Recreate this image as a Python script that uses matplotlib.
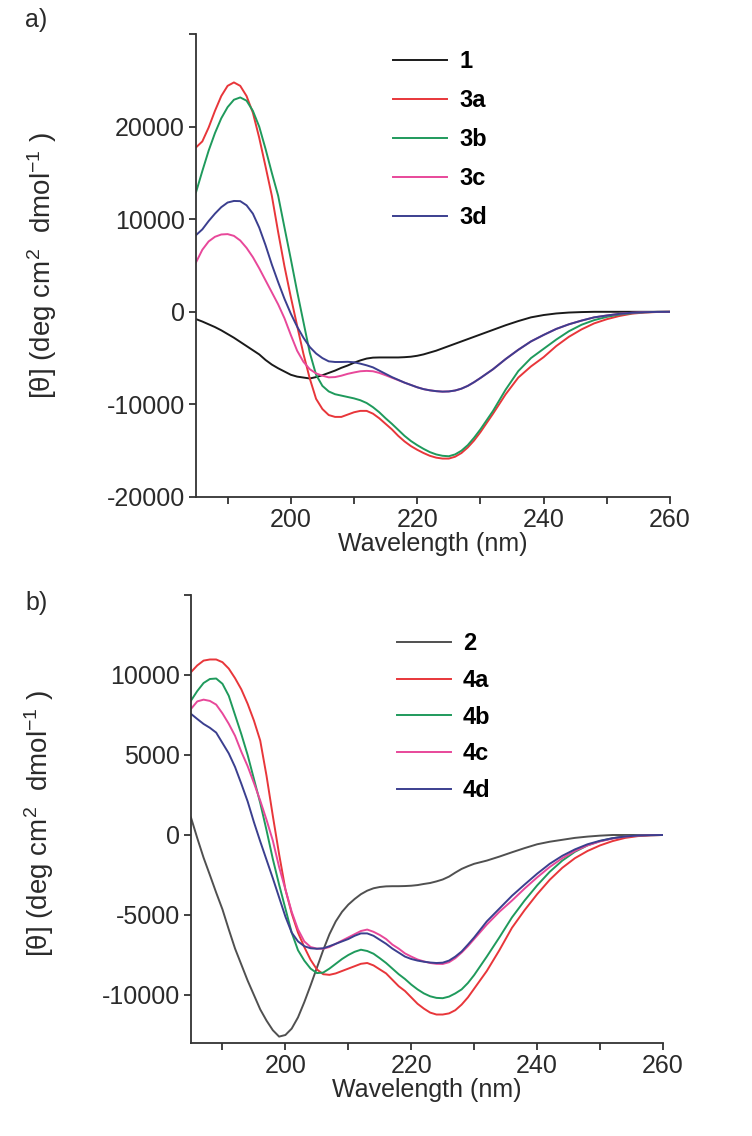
import matplotlib
matplotlib.use("Agg")
import matplotlib.pyplot as plt

plt.rcParams['font.family'] = ['Liberation Sans', 'DejaVu Sans']
plt.rcParams['mathtext.default'] = 'regular'
plt.rcParams['axes.unicode_minus'] = False

# wavelength grid (nm), shared by both panels
wl = list(range(185, 231)) + list(range(232, 261, 2))

# ---- panel a ----
s1 = [-790, -1050, -1350, -1650, -2000, -2400, -2800, -3250, -3700, -4150,
      -4600, -5200, -5700, -6100, -6450, -6800, -7000, -7100, -7200, -7050,
      -6850, -6600, -6350, -6050, -5800, -5500, -5250, -5050, -4950, -4930,
      -4930, -4930, -4930, -4900, -4850, -4750, -4600, -4400, -4200, -3950,
      -3700, -3450, -3200, -2950, -2700, -2450,
      -1950, -1450, -1000, -600, -350, -180, -80, -30, 0, 0, 0, 0, 0, 0, 0]
s3a = [17750, 18400, 19900, 21700, 23300, 24400, 24770, 24400, 23300, 21500,
       18800, 15700, 12530, 8600, 4900, 1600, -1500, -4550, -7200, -9400,
       -10500, -11150, -11350, -11350, -11100, -10850, -10700, -10700, -11000, -11500,
       -12100, -12700, -13400, -14000, -14500, -14900, -15250, -15550, -15750, -15850,
       -15850, -15650, -15250, -14650, -13900, -13000,
       -11000, -8900, -7100, -5900, -4900, -3700, -2700, -1900, -1250, -800,
       -450, -200, -80, -20, 0]
s3b = [12900, 15200, 17400, 19300, 20900, 22100, 22900, 23150, 22800, 21700,
       20000, 17600, 15000, 12530, 9100, 5700, 2200, -1100, -4400, -6800,
       -8000, -8600, -8900, -9050, -9200, -9350, -9550, -9850, -10300, -10850,
       -11500, -12100, -12750, -13400, -13950, -14400, -14800, -15150, -15400, -15550,
       -15600, -15400, -15000, -14400, -13600, -12700,
       -10700, -8400, -6400, -5000, -4000, -3000, -2100, -1400, -900, -550,
       -300, -150, -50, -10, 0]
s3c = [5330, 6700, 7600, 8100, 8350, 8390, 8200, 7700, 6900, 5900,
       4700, 3400, 2100, 800, -700, -2500, -4200, -5400, -6200, -6650,
       -6900, -7080, -7050, -6900, -6700, -6550, -6420, -6380, -6420, -6600,
       -6850, -7120, -7380, -7650, -7900, -8150, -8350, -8480, -8570, -8620,
       -8600, -8500, -8300, -8000, -7600, -7150,
       -6200, -5100, -4100, -3200, -2500, -1850, -1350, -950, -600, -400,
       -220, -100, -40, -10, 0]
s3d = [8280, 8900, 9800, 10600, 11300, 11800, 11970, 11950, 11500, 10600,
       9100, 7200, 5100, 3200, 1400, -200, -1600, -2800, -3800, -4500,
       -5000, -5350, -5420, -5420, -5400, -5450, -5600, -5780, -6000, -6350,
       -6700, -7050, -7350, -7650, -7900, -8150, -8350, -8480, -8570, -8620,
       -8600, -8500, -8300, -8000, -7600, -7150,
       -6200, -5100, -4100, -3200, -2500, -1850, -1350, -950, -600, -400,
       -220, -100, -40, -10, 0]

# ---- panel b ----
s2 = [1090, -200, -1420, -2500, -3600, -4650, -5900, -7100, -8100, -9100,
      -10000, -10900, -11600, -12200, -12600, -12500, -12100, -11400, -10450, -9400,
      -8300, -7200, -6200, -5400, -4800, -4350, -4000, -3700, -3480, -3330,
      -3250, -3210, -3200, -3200, -3190, -3170, -3130, -3060, -3000, -2900,
      -2780, -2600, -2350, -2120, -1950, -1800,
      -1600, -1350, -1080, -820, -580, -420, -300, -180, -100, -40,
      0, 0, 0, 0, 0]
s4a = [10180, 10600, 10900, 10970, 10970, 10800, 10400, 9800, 9100, 8200,
       7150, 5900, 3700, 1200, -1200, -3400, -4900, -6100, -7000, -7800,
       -8400, -8700, -8740, -8650, -8500, -8350, -8200, -8050, -8000, -8150,
       -8400, -8650, -9050, -9450, -9750, -10150, -10550, -10850, -11100, -11220,
       -11220, -11150, -10950, -10600, -10150, -9600,
       -8500, -7200, -5800, -4700, -3700, -2800, -2050, -1450, -1000, -650,
       -380, -180, -70, -20, 0]
s4b = [8400, 9000, 9500, 9750, 9780, 9450, 8700, 7500, 6300, 5000,
       3500, 2000, 300, -1500, -3100, -4600, -6100, -7200, -7850, -8350,
       -8630, -8600, -8350, -8050, -7750, -7500, -7300, -7170, -7250, -7420,
       -7700, -8000, -8350, -8700, -9000, -9350, -9650, -9900, -10080, -10180,
       -10200, -10100, -9900, -9650, -9250, -8750,
       -7600, -6400, -5150, -4100, -3150, -2300, -1600, -1050, -650, -380,
       -200, -90, -30, -10, 0]
s4c = [7880, 8350, 8460, 8380, 8150, 7600, 6950, 6200, 5200, 4300,
       3250, 2150, 950, -350, -2000, -3400, -4800, -5900, -6650, -7000,
       -7100, -7110, -7000, -6800, -6600, -6400, -6200, -6000, -5910, -6050,
       -6250, -6500, -6850, -7100, -7400, -7600, -7780, -7900, -8000, -8050,
       -8060, -7950, -7700, -7350, -6950, -6500,
       -5600, -4800, -4100, -3350, -2650, -2000, -1450, -1000, -650, -400,
       -220, -100, -40, -10, 0]
s4d = [7570, 7250, 6940, 6700, 6400, 5750, 5100, 4250, 3200, 2100,
       800, -400, -1550, -2700, -3900, -5100, -6100, -6650, -6950, -7080,
       -7110, -7080, -6950, -6800, -6650, -6500, -6300, -6150, -6150, -6300,
       -6550, -6800, -7100, -7350, -7600, -7750, -7850, -7920, -7970, -8000,
       -7980, -7850, -7600, -7280, -6850, -6400,
       -5400, -4600, -3800, -3100, -2420, -1800, -1300, -900, -580, -360,
       -200, -90, -30, -10, 0]

labels_a = ['1', '3a', '3b', '3c', '3d']
labels_b = ['2', '4a', '4b', '4c', '4d']
colors_a = ['#1a1a1a', '#e8363a', '#1f9a5c', '#e8489a', '#3b3f8f']
colors_b = ['#505050', '#e8363a', '#1f9a5c', '#e8489a', '#3b3f8f']

fig = plt.figure(figsize=(7.52, 11.36), dpi=100)
ax1 = fig.add_axes([196/752, 1-497/1136, 474/752, 463/1136])
ax2 = fig.add_axes([191/752, 1-1043/1136, 472/752, 448/1136])

ylabel = '[θ] (deg cm$^{2}$  dmol$^{-1}$ )'
fs = 18


def style(ax, yticks, ylim):
    for sp in ['top', 'right']:
        ax.spines[sp].set_visible(False)
    for sp in ['left', 'bottom']:
        ax.spines[sp].set_linewidth(1.3)
        ax.spines[sp].set_color('#333333')
    ax.set_xlim(185, 260)
    ax.set_ylim(*ylim)
    ax.set_xticks(range(190, 261, 10))
    ax.set_xticklabels([str(t) if t % 20 == 0 else '' for t in range(190, 261, 10)])
    ax.set_yticks(yticks)
    ax.set_yticklabels([str(t) for t in yticks[:-1]] + [''])
    ax.tick_params(direction='out', length=5, width=1.3, color='#333333',
                   labelsize=fs, labelcolor='#2a2a2a', pad=3)
    ax.set_xlabel('Wavelength (nm)', fontsize=fs, color='#2a2a2a', labelpad=0)
    ax.set_ylabel(ylabel, fontsize=20, color='#2a2a2a')


# panel a
for ys, lab, c in zip([s1, s3a, s3b, s3c, s3d], labels_a, colors_a):
    ax1.plot(wl, ys, color=c, lw=1.4, label=lab)
style(ax1, [-20000, -10000, 0, 10000, 20000, 30000], (-20000, 30000))
ax1.yaxis.set_label_coords(-0.29, 0.5)
ax1.legend(loc='upper left', bbox_to_anchor=(0.416, 0.965), frameon=False,
           prop={'weight': 'bold', 'size': 17}, handlelength=2.3,
           handletextpad=0.5, labelspacing=0.68, borderpad=0, borderaxespad=0)

# panel b
for ys, lab, c in zip([s2, s4a, s4b, s4c, s4d], labels_b, colors_b):
    ax2.plot(wl, ys, color=c, lw=1.4, label=lab)
style(ax2, [-10000, -5000, 0, 5000, 10000, 15000], (-13000, 15000))
ax2.yaxis.set_label_coords(-0.285, 0.49)
ax2.legend(loc='upper left', bbox_to_anchor=(0.436, 0.917), frameon=False,
           prop={'weight': 'bold', 'size': 17}, handlelength=2.3,
           handletextpad=0.5, labelspacing=0.58, borderpad=0, borderaxespad=0)

fig.text(25/752, 1-20/1136, 'a)', fontsize=fs, color='#2a2a2a', va='center', ha='left')
fig.text(25/752, 1-603/1136, 'b)', fontsize=fs, color='#2a2a2a', va='center', ha='left')

fig.savefig('out.png', dpi=100)
